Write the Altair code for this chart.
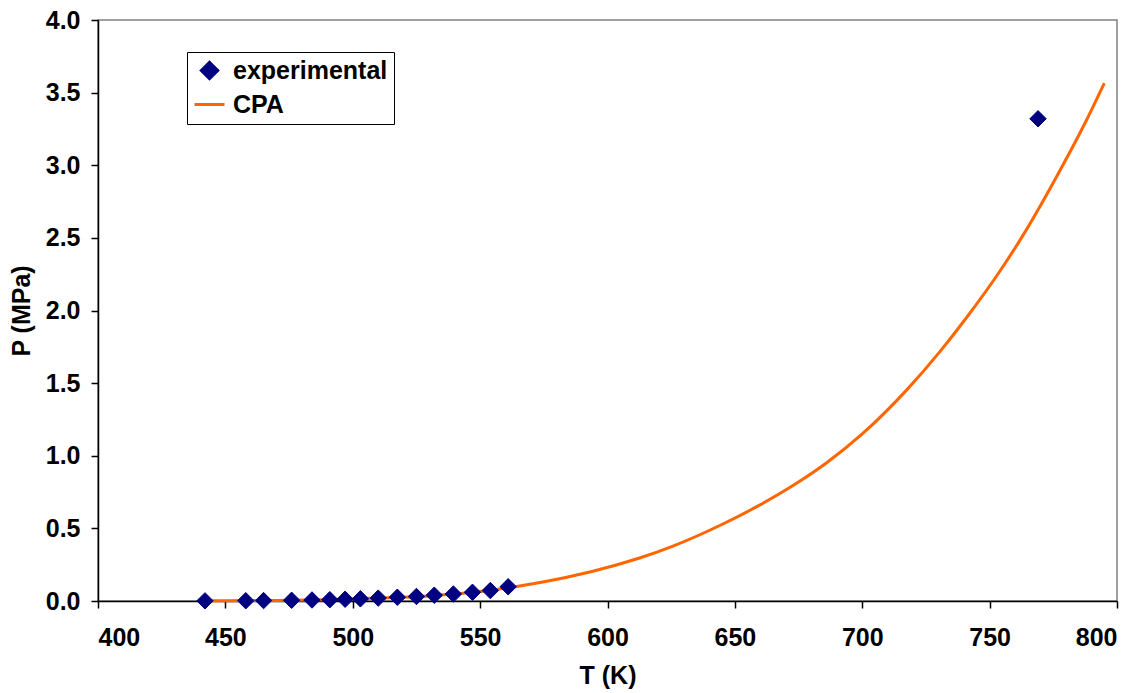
import altair as alt
import pandas as pd

# Experimental data
exp_T = [442, 458, 465, 476, 484, 491, 497, 503, 510, 517.5, 525, 532, 539.5, 547, 554, 561, 769]
exp_P = [0.001, 0.002, 0.003, 0.005, 0.007, 0.009, 0.012, 0.015, 0.020, 0.026, 0.031, 0.040,
         0.048, 0.060, 0.072, 0.098, 3.32]

# CPA model curve
cpa_T = [442, 450, 470, 490, 510, 530, 550, 565.5, 584, 603.5, 612.6, 625.7, 645.3, 659.7,
         674.2, 685.9, 700, 717.3, 730.4, 740.9, 754, 764.4, 777.5, 788, 795]
cpa_P = [0.0, 0.002, 0.004, 0.009, 0.020, 0.035, 0.065, 0.103, 0.163, 0.248, 0.296, 0.378,
         0.530, 0.660, 0.810, 0.950, 1.150, 1.450, 1.715, 1.950, 2.270, 2.555, 2.960, 3.310, 3.565]

series_names = ["experimental", "CPA"]
series_colors = ["#000080", "#FF6600"]

exp_df = pd.DataFrame({"T": exp_T, "P": exp_P, "series": "experimental"})
cpa_df = pd.DataFrame({"T": cpa_T, "P": cpa_P, "series": "CPA"})

FONT = "Liberation Sans"
FS = 25

legend = alt.Legend(
    title=None, orient="none", legendX=89, legendY=32,
    strokeColor="black", fillColor="white", padding=6,
    labelFont=FONT, labelFontSize=FS, labelFontWeight="bold", labelColor="black",
    labelOffset=7, rowPadding=3, symbolStrokeWidth=3, symbolOpacity=1,
    labelLimit=300,
)

x_enc = alt.X("T:Q", title="T (K)",
              scale=alt.Scale(domain=[400, 800], nice=False, zero=False),
              axis=alt.Axis(values=[400, 450, 500, 550, 600, 650, 700, 750, 800],
                            labelPadding=17, titlePadding=13))
y_enc = alt.Y("P:Q", title="P (MPa)",
              scale=alt.Scale(domain=[0, 4], nice=False),
              axis=alt.Axis(values=[0, 0.5, 1, 1.5, 2, 2.5, 3, 3.5, 4], format=".1f",
                            labelPadding=11, titlePadding=11))

stroke_scale = alt.Scale(domain=series_names, range=series_colors)

line = alt.Chart(cpa_df).mark_line(strokeWidth=3, interpolate="monotone").encode(
    x=x_enc, y=y_enc,
    stroke=alt.Stroke("series:N", scale=stroke_scale, legend=legend),
)

points = alt.Chart(exp_df).mark_point(filled=True, opacity=1, strokeWidth=1).encode(
    x=x_enc, y=y_enc,
    fill=alt.Fill("series:N", scale=alt.Scale(domain=series_names, range=series_colors), legend=legend),
    stroke=alt.Stroke("series:N", scale=stroke_scale, legend=legend),
    shape=alt.Shape("series:N", scale=alt.Scale(domain=series_names, range=["diamond", "stroke"]), legend=legend),
    size=alt.Size("series:N", scale=alt.Scale(domain=series_names, range=[270, 900]), legend=legend),
)

chart = alt.layer(line, points).properties(
    width=1019, height=581,
    autosize=alt.AutoSizeParams(type="none"),
    padding={"left": 98, "top": 20, "right": 28, "bottom": 92},
).configure_view(
    stroke="#808080", strokeWidth=1.5
).configure_axis(
    labelFont=FONT, labelFontSize=FS, labelFontWeight="bold", labelColor="black",
    titleFont=FONT, titleFontSize=FS, titleFontWeight="bold", titleColor="black",
    domainColor="black", domainWidth=1.5, tickColor="black", tickSize=7, tickWidth=1.5,
    grid=False,
)

chart.save("out.html", embed_options={"renderer": "svg", "actions": False})
